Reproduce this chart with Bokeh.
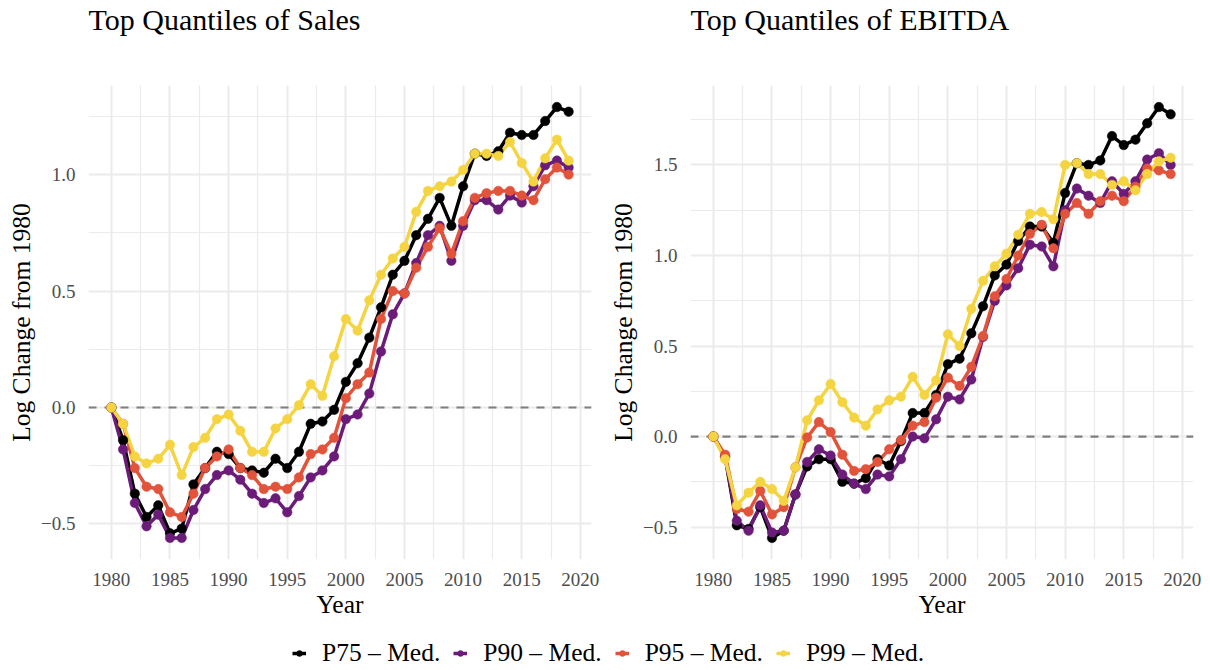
from bokeh.plotting import figure
from bokeh.models import (FixedTicker, Span, Range1d, Legend, LegendItem,
                          CustomJSTickFormatter, Title)
from bokeh.layouts import column, row
from bokeh.embed import file_html
from bokeh.resources import INLINE

years = list(range(1980, 2020))
series_names = ["P75 \u2013 Med.", "P90 \u2013 Med.", "P95 \u2013 Med.", "P99 \u2013 Med."]
series_colors = ["#000000", "#6A1C78", "#E1533A", "#F5D442"]
year_ticks = [1980, 1985, 1990, 1995, 2000, 2005, 2010, 2015, 2020]

sales_p75 = [0.00, -0.14, -0.37, -0.47, -0.42, -0.54, -0.52, -0.33, -0.26, -0.19,
             -0.20, -0.26, -0.27, -0.28, -0.22, -0.26, -0.19, -0.07, -0.06, -0.01,
             0.11, 0.19, 0.30, 0.43, 0.57, 0.63, 0.74, 0.81, 0.90, 0.78,
             0.95, 1.09, 1.08, 1.10, 1.18, 1.17, 1.17, 1.23, 1.29, 1.27]
sales_p90 = [0.00, -0.18, -0.41, -0.51, -0.46, -0.56, -0.56, -0.44, -0.35, -0.29,
             -0.27, -0.31, -0.37, -0.41, -0.39, -0.45, -0.38, -0.30, -0.27, -0.21,
             -0.05, -0.03, 0.06, 0.24, 0.40, 0.49, 0.62, 0.74, 0.78, 0.63,
             0.78, 0.89, 0.89, 0.85, 0.91, 0.88, 0.95, 1.04, 1.06, 1.03]
sales_p95 = [0.00, -0.07, -0.26, -0.34, -0.35, -0.45, -0.47, -0.37, -0.26, -0.21,
             -0.18, -0.26, -0.29, -0.35, -0.34, -0.35, -0.30, -0.20, -0.18, -0.13,
             0.04, 0.10, 0.15, 0.38, 0.50, 0.49, 0.60, 0.69, 0.77, 0.66,
             0.80, 0.90, 0.92, 0.93, 0.93, 0.91, 0.89, 0.98, 1.03, 1.00]
sales_p99 = [0.00, -0.07, -0.21, -0.24, -0.22, -0.16, -0.29, -0.17, -0.13, -0.05,
             -0.03, -0.10, -0.19, -0.19, -0.09, -0.05, 0.01, 0.10, 0.05, 0.22,
             0.38, 0.33, 0.46, 0.57, 0.64, 0.69, 0.84, 0.93, 0.95, 0.97,
             1.02, 1.09, 1.09, 1.08, 1.14, 1.05, 0.97, 1.07, 1.15, 1.06]

ebitda_p75 = [0.00, -0.11, -0.49, -0.51, -0.39, -0.56, -0.52, -0.32, -0.165, -0.125,
              -0.125, -0.25, -0.26, -0.23, -0.125, -0.16, -0.025, 0.13, 0.13, 0.23,
              0.40, 0.43, 0.57, 0.72, 0.89, 0.95, 1.08, 1.16, 1.16, 1.07,
              1.345, 1.51, 1.50, 1.525, 1.66, 1.61, 1.64, 1.73, 1.82, 1.78]
ebitda_p90 = [0.00, -0.11, -0.465, -0.52, -0.38, -0.53, -0.52, -0.32, -0.14, -0.07,
              -0.105, -0.21, -0.26, -0.29, -0.21, -0.22, -0.125, 0.00, -0.01, 0.095,
              0.22, 0.205, 0.315, 0.55, 0.75, 0.835, 0.93, 1.06, 1.05, 0.94,
              1.25, 1.37, 1.33, 1.29, 1.41, 1.34, 1.41, 1.53, 1.565, 1.50]
ebitda_p95 = [0.00, -0.10, -0.40, -0.415, -0.30, -0.43, -0.39, -0.17, -0.005, 0.08,
              0.025, -0.10, -0.19, -0.18, -0.14, -0.07, -0.02, 0.06, 0.08, 0.215,
              0.325, 0.28, 0.385, 0.555, 0.775, 0.87, 1.00, 1.12, 1.17, 1.04,
              1.23, 1.29, 1.23, 1.30, 1.33, 1.30, 1.38, 1.48, 1.47, 1.45]
ebitda_p99 = [0.00, -0.125, -0.38, -0.31, -0.25, -0.29, -0.355, -0.17, 0.09, 0.20,
              0.29, 0.19, 0.105, 0.06, 0.15, 0.20, 0.22, 0.33, 0.23, 0.31,
              0.565, 0.50, 0.705, 0.86, 0.94, 1.01, 1.115, 1.23, 1.24, 1.20,
              1.50, 1.51, 1.45, 1.45, 1.39, 1.41, 1.36, 1.45, 1.52, 1.54]

FONT = "Liberation Serif"
GRID = "#EBEBEB"


def expand(lo, hi, f=0.05):
    d = (hi - lo) * f
    return lo - d, hi + d


def panel(title, data, yticks, border_left, border_right):
    allv = [v for s in data for v in s]
    y0, y1 = expand(min(allv), max(allv))
    x0, x1 = expand(min(years), max(years))
    p = figure(frame_width=503, frame_height=474,
               min_border_left=border_left, min_border_right=border_right,
               min_border_top=85, min_border_bottom=66,
               x_range=Range1d(x0, x1), y_range=Range1d(y0, y1),
               output_backend="svg", toolbar_location=None)
    p.outline_line_color = None
    # spacer between the frame and the title
    p.add_layout(Title(text=" ", text_font=FONT, text_font_size="29px",
                       standoff=16), "above")
    p.add_layout(Title(text=title, text_font=FONT, text_font_size="30px",
                       text_font_style="normal", text_color="black",
                       standoff=0, offset=0, align="left"), "above")

    xminor = [t + 2.5 for t in year_ticks[:-1]]
    p.xaxis.ticker = FixedTicker(ticks=year_ticks, minor_ticks=xminor)
    yminor = [t + 0.25 for t in yticks]
    p.yaxis.ticker = FixedTicker(ticks=yticks, minor_ticks=[yticks[0] - 0.25] + yminor)
    p.yaxis.formatter = CustomJSTickFormatter(
        code="return (tick < 0 ? '\\u2212' : '') + Math.abs(tick).toFixed(1);")
    for ax in (p.xaxis[0], p.yaxis[0]):
        ax.axis_line_color = None
        ax.major_tick_line_color = None
        ax.minor_tick_line_color = None
        ax.major_label_text_font = FONT
        ax.major_label_text_font_size = "19px"
        ax.major_label_text_color = "#4D4D4D"
        ax.axis_label_text_font = FONT
        ax.axis_label_text_font_size = "25.5px"
        ax.axis_label_text_font_style = "normal"
        ax.axis_label_text_color = "black"
    p.xaxis.axis_label = "Year"
    p.yaxis.axis_label = "Log Change from 1980"
    p.xaxis.major_label_standoff = 7
    p.xaxis.axis_label_standoff = 1
    p.yaxis.major_label_standoff = 7
    p.yaxis.axis_label_standoff = 2

    for g in (p.xgrid[0], p.ygrid[0]):
        g.grid_line_color = GRID
        g.grid_line_width = 2
        g.minor_grid_line_color = GRID
        g.minor_grid_line_width = 1.2

    p.add_layout(Span(location=0, dimension="width", line_color="#7F7F7F",
                      line_dash="8 8", line_width=2.2, level="underlay"))

    for vals, c in zip(data, series_colors):
        p.line(years, vals, line_color=c, line_width=3.5)
    for vals, c in zip(data, series_colors):
        p.scatter(years, vals, size=9.5, fill_color=c, line_color=c, line_width=0.5)
    return p


p1 = panel("Top Quantiles of Sales", [sales_p75, sales_p90, sales_p95, sales_p99],
           [-0.5, 0.0, 0.5, 1.0], 88, 14)
p2 = panel("Top Quantiles of EBITDA", [ebitda_p75, ebitda_p90, ebitda_p95, ebitda_p99],
           [-0.5, 0.0, 0.5, 1.0, 1.5], 85, 15)

lf = figure(width=1208, height=43, min_border=0, output_backend="svg",
            toolbar_location=None, x_range=Range1d(0, 1), y_range=Range1d(0, 1))
lf.axis.visible = False
lf.grid.visible = False
lf.outline_line_color = None
items = []
for name, c in zip(series_names, series_colors):
    rl = lf.line(x=[0.1, 0.2], y=[5, 5], line_color=c, line_width=3.5)
    rs = lf.scatter(x=[0.1], y=[5], size=9.5, fill_color=c, line_color=c)
    items.append(LegendItem(label=name, renderers=[rl, rs]))
leg = Legend(items=items, orientation="horizontal", location=(292, 0),
             border_line_color=None, background_fill_alpha=0, padding=0, margin=0,
             spacing=13, label_standoff=16, glyph_width=14, glyph_height=20,
             label_text_font=FONT, label_text_font_size="25.5px", label_text_color="black")
lf.add_layout(leg, "center")

layout = column(row(p1, p2), lf)
open("out.html", "w").write(file_html(layout, INLINE))
